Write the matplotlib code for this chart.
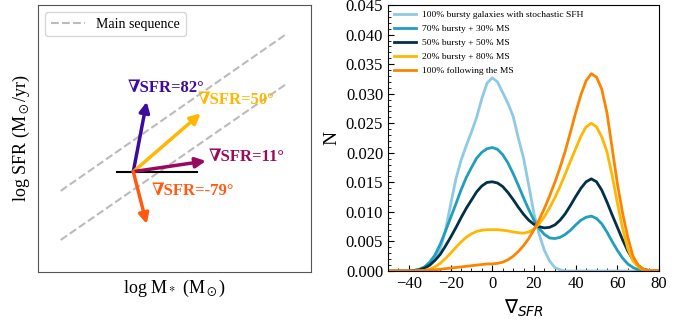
import numpy as np
import matplotlib
matplotlib.use('Agg')
import matplotlib.pyplot as plt
from matplotlib.ticker import AutoMinorLocator, MultipleLocator

plt.rcParams['font.family'] = ['Liberation Serif', 'DejaVu Serif']

# ── Panneau gauche : schéma des directions ─────────────────────────────
ms_x = [0.83, 9.13]
ms_upper = [3.04, 8.94]
ms_lower = [1.20, 7.07]
origin = (3.49, 3.76)
ref_line_x = [2.88, 5.84]
arrow_labels = ['∇SFR=82°', '∇SFR=50°', '∇SFR=11°', '∇SFR=-79°']
arrow_tips = [(3.98, 6.38), (5.96, 5.94), (6.15, 4.16), (3.98, 1.80)]
label_pos = [(3.30, 6.91), (5.84, 6.44), (6.24, 4.32), (4.16, 3.04)]
arrow_colors = ['#3c0a9f', '#ffb703', '#990a5c', '#ff5a0f']

# ── Panneau droit : distributions de ∇SFR ─────────────────────────────
series_labels = ['100% bursty galaxies with stochastic SFH',
                 '70% bursty + 30% MS',
                 '50% bursty + 50% MS',
                 '20% bursty + 80% MS',
                 '100% following the MS']
series_colors = ['#8ecae6', '#219ebc', '#023047', '#ffb703', '#fb8500']

# grille commune (pas de 2.5)
grad = [-50, -47.5, -45, -42.5, -40, -37.5, -35, -32.5, -30, -27.5, -25, -22.5,
        -20, -17.5, -15, -12.5, -10, -7.5, -5, -2.5, 0, 2.5, 5, 7.5, 10, 12.5,
        15, 17.5, 20, 22.5, 25, 27.5, 30, 32.5, 35, 37.5, 40, 42.5, 45, 47.5,
        50, 52.5, 55, 57.5, 60, 62.5, 65, 67.5, 70, 72.5, 75, 77.5, 80]

n_bursty = [0, 0, 0, 0, 0, 0, 0.0001, 0.0004, 0.001, 0.002, 0.0037, 0.0068,
            0.0112, 0.0155, 0.0187, 0.0212, 0.0235, 0.026, 0.0292, 0.0318, 0.0327,
            0.032, 0.0302, 0.0284, 0.0262, 0.0225, 0.0191, 0.0145, 0.0097, 0.0062,
            0.0035, 0.0017, 0.0006, 0.0002, 0, 0, 0, 0, 0, 0,
            0, 0, 0, 0, 0, 0, 0, 0, 0, 0, 0, 0, 0]

n_70 = [0, 0, 0, 0, 0, 0.0001, 0.0003, 0.0007, 0.0015, 0.0027, 0.0045, 0.0067,
        0.009, 0.0113, 0.0137, 0.0158, 0.0175, 0.0191, 0.0201, 0.0207, 0.0209,
        0.0206, 0.0197, 0.0183, 0.0165, 0.0145, 0.0124, 0.0104, 0.0086, 0.0072,
        0.0062, 0.0056, 0.0055, 0.0057, 0.0062, 0.0069, 0.0078, 0.0086, 0.0091,
        0.0093, 0.0089, 0.008, 0.0066, 0.005, 0.0035, 0.0022, 0.0012, 0.0006,
        0.0002, 0.0001, 0, 0, 0]

n_50 = [0, 0, 0, 0, 0, 0.0001, 0.0002, 0.0005, 0.001, 0.0018, 0.0028, 0.0042,
        0.0057, 0.0073, 0.009, 0.0106, 0.012, 0.0134, 0.0144, 0.015, 0.0151,
        0.0149, 0.0143, 0.0133, 0.0121, 0.0108, 0.0096, 0.0086, 0.0079, 0.0075,
        0.0073, 0.0074, 0.0078, 0.0086, 0.0097, 0.0111, 0.0126, 0.014, 0.0151,
        0.0156, 0.0151, 0.0137, 0.0117, 0.0095, 0.0074, 0.0053, 0.0034, 0.0019,
        0.0009, 0.0003, 0.0001, 0, 0]

n_20 = [0, 0, 0, 0, 0, 0, 0, 0.0001, 0.0003, 0.0007, 0.0013, 0.0021,
        0.003, 0.004, 0.0049, 0.0057, 0.0063, 0.0067, 0.0069, 0.007, 0.007,
        0.007, 0.0069, 0.0068, 0.0066, 0.0065, 0.0064, 0.0066, 0.0071, 0.008,
        0.0092, 0.0107, 0.0124, 0.0143, 0.0164, 0.0186, 0.0207, 0.0228, 0.0244,
        0.025, 0.0244, 0.0227, 0.0202, 0.0162, 0.0115, 0.0072, 0.0038, 0.0017,
        0.0007, 0.0002, 0.0001, 0, 0]

n_ms = [0, 0, 0, 0, 0, 0, 0.0001, 0.0001, 0.0002, 0.0002, 0.0003, 0.0004,
        0.0005, 0.0006, 0.0007, 0.0008, 0.0009, 0.001, 0.0011, 0.0012, 0.0012,
        0.0013, 0.0015, 0.0019, 0.0025, 0.0033, 0.0043, 0.0055, 0.007, 0.0087,
        0.0106, 0.0127, 0.015, 0.0175, 0.0203, 0.0235, 0.0268, 0.0298, 0.0322,
        0.0334, 0.0328, 0.0308, 0.0268, 0.0208, 0.0148, 0.0098, 0.0057, 0.0025,
        0.001, 0.0003, 0.0001, 0, 0]

series_y = [n_bursty, n_70, n_50, n_20, n_ms]

fig = plt.figure(figsize=(6.95, 3.2), dpi=100)

# ── Panneau gauche ────────────────────────────────────────────────────
ax1 = fig.add_axes([0.0547, 0.15, 0.3928, 0.834])
ax1.plot(ms_x, ms_upper, ls='--', color='#bbbbbb', lw=1.5, label='Main sequence')
ax1.plot(ms_x, ms_lower, ls='--', color='#bbbbbb', lw=1.5)
ax1.plot(ref_line_x, [origin[1], origin[1]], color='black', lw=1.5)
for lab, tip, pos, c in zip(arrow_labels, arrow_tips, label_pos, arrow_colors):
    ax1.annotate('', xy=tip, xytext=origin,
                 arrowprops=dict(arrowstyle='-|>', color=c, lw=2.5,
                                 mutation_scale=15, shrinkA=0, shrinkB=0))
    ax1.text(pos[0], pos[1], lab, color=c, fontsize=12, fontweight='bold',
             ha='left', va='center')
ax1.set_xlim(0, 10)
ax1.set_ylim(0, 10)
ax1.set_xticks([])
ax1.set_yticks([])
for s in ax1.spines.values():
    s.set_color('#555555')
ax1.set_xlabel(r'log M$_*$ (M$_\odot$)', fontsize=13, math_fontfamily='stix')
ax1.set_ylabel(r'log SFR (M$_\odot$/yr)', fontsize=13, math_fontfamily='stix')
ax1.legend(loc='upper left', fontsize=10, handlelength=2.5)

# ── Panneau droit ─────────────────────────────────────────────────────
ax2 = fig.add_axes([0.5583, 0.153, 0.39, 0.831])
for ys, lab, c in zip(series_y, series_labels, series_colors):
    ax2.plot(grad, ys, color=c, lw=2, label=lab)
ax2.set_xlim(-50, 80)
ax2.set_ylim(0, 0.045)
ax2.xaxis.set_major_locator(MultipleLocator(20))
ax2.yaxis.set_major_locator(MultipleLocator(0.005))
ax2.xaxis.set_minor_locator(AutoMinorLocator(4))
ax2.yaxis.set_minor_locator(AutoMinorLocator(5))
ax2.tick_params(which='both', direction='in', labelsize=12)
ax2.tick_params(which='major', length=4)
ax2.tick_params(which='minor', length=2)
ax2.set_xlabel(r'$\nabla_{SFR}$', fontsize=14)
ax2.set_ylabel('N', fontsize=14)
ax2.legend(loc='upper left', fontsize=6.8, frameon=False, handlelength=2.4,
           handletextpad=0.6, labelspacing=0.56, borderaxespad=0.2)

fig.savefig('out.png', dpi=100)
